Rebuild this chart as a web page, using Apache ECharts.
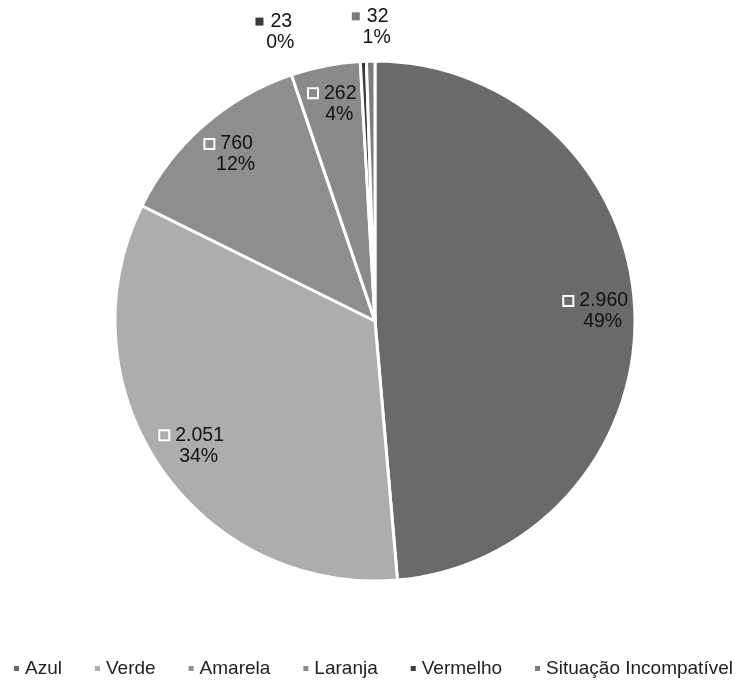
<!DOCTYPE html>
<html>
<head>
<meta charset="utf-8">
<script src="https://cdn.jsdelivr.net/npm/echarts@6/dist/echarts.min.js"></script>
<style>
html,body{margin:0;padding:0;background:#fff;}
#chart{width:752px;height:684px;}
</style>
</head>
<body>
<div id="chart"></div>
<script>
const categories = ['Azul', 'Verde', 'Amarela', 'Laranja', 'Vermelho', 'Situação Incompatível'];
const values = [2960, 2051, 760, 262, 23, 32];
const colors = ['#6a6a6a', '#adadad', '#8e8e8e', '#8a8a8a', '#3a3a3a', '#7c7c7c'];

const total = values.reduce((a, b) => a + b, 0);
const fmtNum = v => v.toString().replace(/\B(?=(\d{3})+(?!\d))/g, '.');
const CX = 375, CY = 321, R = 260;
const FONT = '"Liberation Sans", Arial, sans-serif';

function richFor(i) {
  return {
    k: { width: 8, height: 8, backgroundColor: colors[i], borderColor: '#fff', borderWidth: 2 },
    sp: { width: 7 },
    v: { fontSize: 19.5, fontFamily: FONT, color: '#111', lineHeight: 21 },
    p: { fontSize: 19.5, fontFamily: FONT, color: '#111', lineHeight: 21, padding: [0, 0, 0, 13] }
  };
}

function labelData(showIdx) {
  return values.map((v, i) => ({
    name: categories[i],
    value: v,
    itemStyle: { color: 'rgba(0,0,0,0)', borderWidth: 0 },
    label: {
      show: showIdx.includes(i),
      position: 'inside',
      formatter: '{k|}{sp|}{v|' + fmtNum(v) + '}\n{p|' + Math.round(v / total * 100) + '%}',
      rich: richFor(i)
    }
  }));
}

const chart = echarts.init(document.getElementById('chart'), null, { renderer: 'canvas' });
chart.setOption({
  backgroundColor: '#fff',
  animation: false,
  color: colors,
  legend: {
    data: categories,
    bottom: 6,
    left: 12,
    right: 0,
    padding: 0,
    icon: 'rect',
    itemWidth: 7,
    itemHeight: 7,
    itemGap: 31,
    textStyle: { fontSize: 19, fontFamily: FONT, color: '#222' }
  },
  series: [
    {
      type: 'pie',
      center: [CX, CY],
      radius: [0, R],
      startAngle: 90,
      clockwise: true,
      silent: true,
      label: { show: false },
      labelLine: { show: false },
      itemStyle: { borderColor: '#fff', borderWidth: 3 },
      data: values.map((v, i) => ({ name: categories[i], value: v }))
    },
    {
      type: 'pie',
      center: [CX, CY],
      radius: [0, R * 1.68],
      startAngle: 90,
      silent: true,
      legendHoverLink: false,
      labelLine: { show: false },
      data: labelData([0, 1, 2, 3])
    },
    {
      type: 'pie',
      center: [CX, CY],
      radius: [0, R * 2 * 1.12],
      startAngle: 90,
      silent: true,
      legendHoverLink: false,
      labelLine: { show: false },
      data: labelData([4, 5]),
      labelLayout: function (p) {
        if (p.dataIndex === 4) return { dx: -88, dy: 5 };
        return {};
      }
    }
  ]
});
</script>
</body>
</html>
